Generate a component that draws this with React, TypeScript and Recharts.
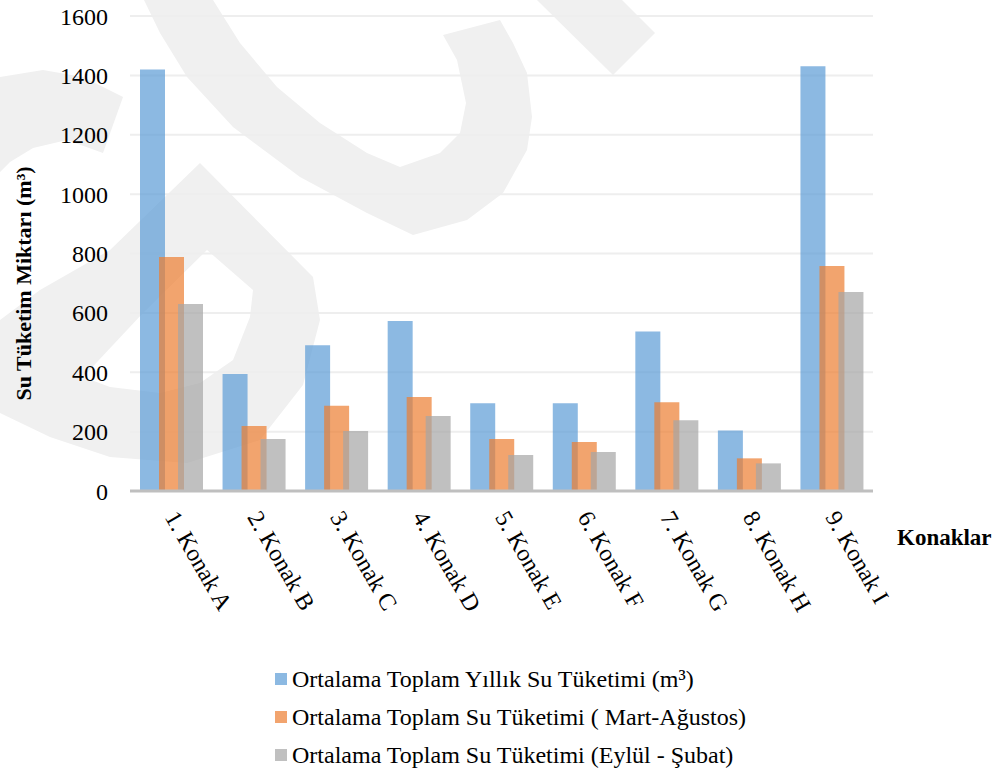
import { Bar, BarChart, CartesianGrid, Legend, XAxis, YAxis } from 'recharts'

const categories = ['1. Konak A', '2. Konak B', '3. Konak C', '4. Konak D', '5. Konak E', '6. Konak F', '7. Konak G', '8. Konak H', '9. Konak I']
const yearly = [1420, 394, 491, 573, 296, 296, 537, 204, 1431]
const marAug = [788, 219, 287, 317, 175, 165, 299, 110, 758]
const sepFeb = [630, 175, 202, 253, 121, 131, 238, 93, 670]
const yTicks = [0, 200, 400, 600, 800, 1000, 1200, 1400, 1600]
const seriesNames = [
  'Ortalama Toplam Yıllık Su Tüketimi (m³)',
  'Ortalama Toplam Su Tüketimi ( Mart-Ağustos)',
  'Ortalama Toplam Su Tüketimi (Eylül - Şubat)',
]

const BLUE = '#5b9bd5'
const ORANGE = '#ed7d31'
const GRAY = '#a5a5a5'
const FONT = "'Liberation Serif', 'Times New Roman', serif"
const WM = '#f0f0f0'

const data = categories.map((name, i) => ({ name, yearly: yearly[i], marAug: marAug[i], sepFeb: sepFeb[i] }))

// faint logo watermark behind the plot
function Watermark() {
  return (
    <svg width={998} height={771} style={{ position: 'absolute', left: 0, top: 0 }}>
      <path
        fill={WM}
        d="M144,0 L160,33 L187,77 L233,127 L300,177 L367,213 L413,235 L467,220 L503,193 L527,150 L532,117 L527,73 L513,43 L500,20 L443,35 L457,60 L466,103 L460,133 L440,153 L400,167 L367,153 L320,123 L277,87 L240,43 L213,0 Z"
      />
      <path fill={WM} d="M537,0 L613,75 L655,33 L622,0 Z" />
      <path fill={WM} d="M0,77 L43,70 L83,77 L123,97 L103,153 L67,140 L33,148 L10,162 L0,172 Z" />
      <path
        fill={WM}
        fillRule="evenodd"
        d="M200,163 L313,277 L320,320 L303,385 L260,440 L187,463 L110,457 L50,437 L0,413 L0,320 L40,290 L110,250 Z M207,250 L253,290 L250,317 L233,360 L200,383 L160,393 L110,387 L83,377 L143,313 Z"
      />
    </svg>
  )
}

function XTick({ x, y, payload }: any) {
  const tx = x - 7
  const ty = y + 26
  return (
    <text x={tx} y={ty} transform={`rotate(60 ${tx} ${ty})`} fontSize={24} fontFamily={FONT} fill="#000">
      {payload.value}
    </text>
  )
}

function LegendList({ payload }: any) {
  const items = [...(payload || [])].sort((a: any, b: any) => seriesNames.indexOf(a.value) - seriesNames.indexOf(b.value))
  return (
    <div style={{ fontFamily: FONT, fontSize: 24, color: '#000' }}>
      {items.map((p: any) => (
        <div key={p.value} style={{ display: 'flex', alignItems: 'center', height: 38 }}>
          <span style={{ width: 12, height: 12, background: p.color, opacity: 0.7, marginRight: 5 }} />
          <span>{p.value}</span>
        </div>
      ))}
    </div>
  )
}

export default function App() {
  return (
    <div style={{ position: 'absolute', left: 0, top: 0, width: 998, height: 771, background: '#fff', fontFamily: FONT }}>
      <Watermark />
      <div style={{ position: 'absolute', left: 0, top: 0 }}>
        <BarChart
          width={998}
          height={771}
          data={data}
          margin={{ top: 16, right: 125, left: 0, bottom: 0 }}
          barCategoryGap={10}
          barGap={-6}
          style={{ fontFamily: FONT }}
        >
          <CartesianGrid vertical={false} stroke="#eeeeee" strokeWidth={2} />
          <XAxis
            dataKey="name"
            height={280}
            interval={0}
            tickLine={false}
            tickSize={0}
            tickMargin={0}
            axisLine={{ stroke: '#bfbfbf', strokeWidth: 3 }}
            tick={XTick}
            label={(props: any) => {
              const vb = props.viewBox
              return (
                <text x={vb.x + vb.width + 24} y={vb.y + 54} fontSize={23} fontWeight="bold" fontFamily={FONT} fill="#000">
                  Konaklar
                </text>
              )
            }}
          />
          <YAxis
            width={130}
            domain={[0, 1600]}
            ticks={yTicks}
            axisLine={false}
            tickLine={false}
            tickSize={0}
            tickMargin={22}
            tick={{ fontSize: 24, fill: '#000', fontFamily: FONT }}
            label={(props: any) => {
              const vb = props.viewBox
              const cx = vb.x + 31
              const cy = vb.y + vb.height / 2 + 30
              return (
                <text x={cx} y={cy} transform={`rotate(-90 ${cx} ${cy})`} textAnchor="middle" fontSize={22} fontWeight="bold" fontFamily={FONT} fill="#000">
                  Su Tüketim Miktarı (m³)
                </text>
              )
            }}
          />
          <Legend
            layout="vertical"
            verticalAlign="middle"
            align="center"
            content={LegendList}
            wrapperStyle={{ top: 660, left: 275, width: 520 }}
          />
          <Bar dataKey="yearly" name={seriesNames[0]} fill={BLUE} fillOpacity={0.7} isAnimationActive={false} />
          <Bar dataKey="marAug" name={seriesNames[1]} fill={ORANGE} fillOpacity={0.7} isAnimationActive={false} />
          <Bar dataKey="sepFeb" name={seriesNames[2]} fill={GRAY} fillOpacity={0.7} isAnimationActive={false} />
        </BarChart>
      </div>
    </div>
  )
}
